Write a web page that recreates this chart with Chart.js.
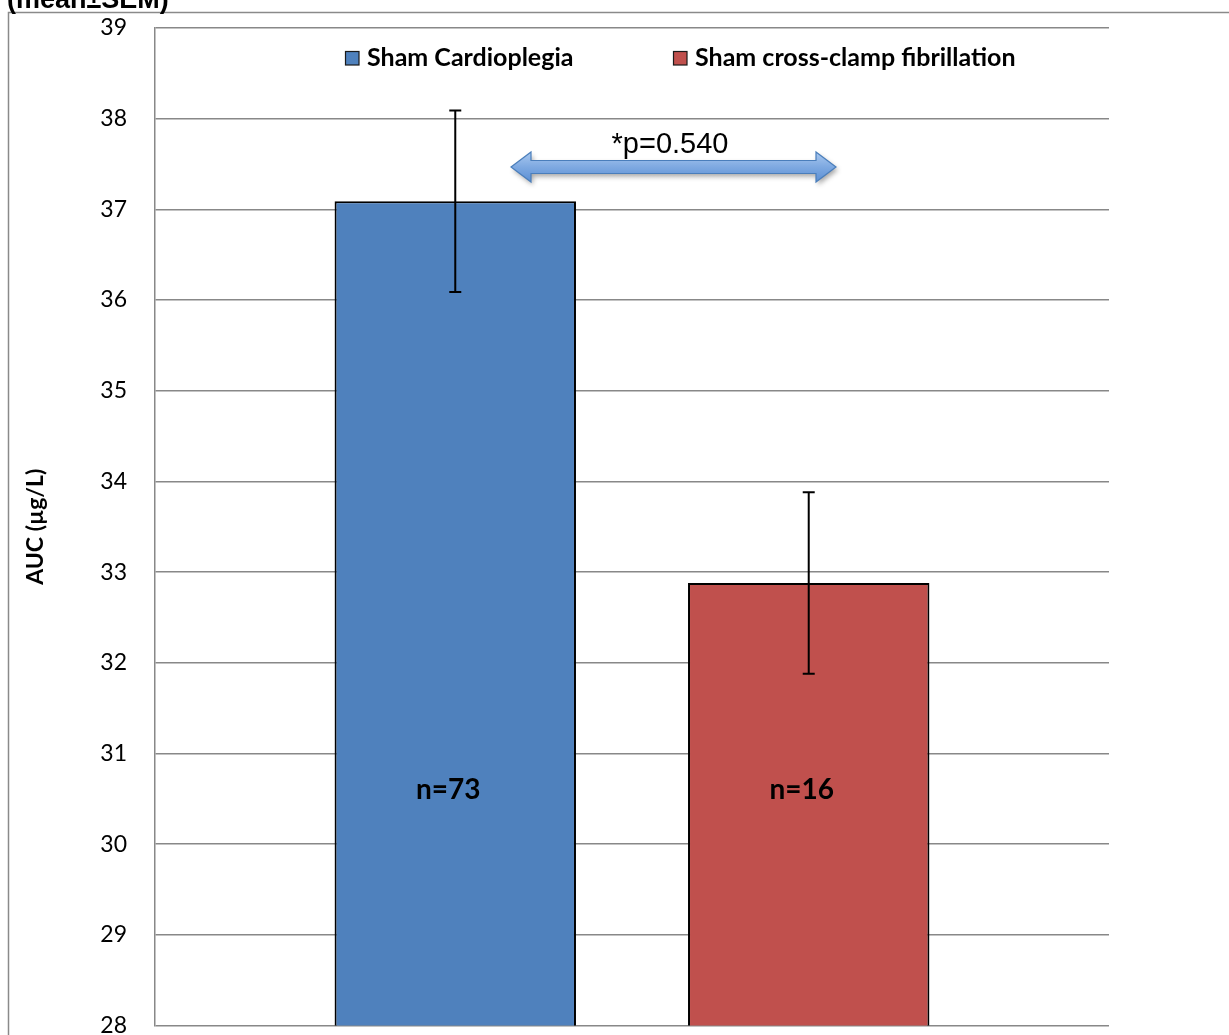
<!DOCTYPE html>
<html>
<head>
<meta charset="utf-8">
<script src="https://cdn.jsdelivr.net/npm/chart.js@4.4.1/dist/chart.umd.min.js"></script>
<style>
  html, body { margin: 0; padding: 0; background: #ffffff; }
  canvas { display: block; }
</style>
</head>
<body>
<canvas id="auc" width="1229" height="1035"></canvas>
<script>
// Group names, means, standard errors and sample sizes
const groups = ['Sham Cardioplegia', 'Sham cross-clamp fibrillation'];
const meanAUC = [37.09, 32.88];
const semAUC = [1.0, 1.0];
const sampleSizes = ['n=73', 'n=16'];
const barColors = ['#4F81BD', '#C0504D'];
const yTicks = [28, 29, 30, 31, 32, 33, 34, 35, 36, 37, 38, 39];
const pLabel = '*p=0.540';
const chartTitle = '(mean\u00B1SEM)';
const yTitle = 'AUC (\u00B5g/L)';

const GRID = '#888888';

// Outer frame, title, legend and comparison arrow
const decorations = {
  id: 'decorations',
  beforeDraw(chart) {
    const ctx = chart.ctx;
    ctx.save();
    ctx.fillStyle = '#ffffff';
    ctx.fillRect(0, 0, chart.width, chart.height);
    ctx.strokeStyle = '#8a8a8a';
    ctx.lineWidth = 1.5;
    ctx.beginPath();
    ctx.moveTo(8.5, chart.height);
    ctx.lineTo(8.5, 12.5);
    ctx.lineTo(chart.width, 12.5);
    ctx.stroke();
    ctx.fillStyle = '#000000';
    ctx.font = 'bold 27px "Liberation Sans", Arial, sans-serif';
    ctx.textBaseline = 'alphabetic';
    ctx.textAlign = 'left';
    ctx.fillText(chartTitle, 7, 8);
    ctx.restore();
  },
  afterDraw(chart) {
    const ctx = chart.ctx;
    ctx.save();
    // legend
    const legendX = [345, 673];
    ctx.font = 'bold 25px Lato, "Open Sans", sans-serif';
    ctx.textBaseline = 'middle';
    ctx.textAlign = 'left';
    groups.forEach((g, i) => {
      ctx.fillStyle = barColors[i];
      ctx.fillRect(legendX[i], 51, 14, 14);
      ctx.strokeStyle = '#1a1a1a';
      ctx.lineWidth = 1.2;
      ctx.strokeRect(legendX[i] + 0.5, 51.5, 13.5, 13.5);
      ctx.fillStyle = '#000000';
      ctx.fillText(g, legendX[i] + 22, 58);
    });

    // double-headed arrow
    const x1 = 511, x2 = 836, yc = 167, shaft = 6.5, head = 15, hl = 20;
    ctx.save();
    ctx.shadowColor = 'rgba(0,0,0,0.35)';
    ctx.shadowBlur = 5;
    ctx.shadowOffsetX = 2;
    ctx.shadowOffsetY = 3;
    const grad = ctx.createLinearGradient(0, yc - head, 0, yc + head);
    grad.addColorStop(0, '#a9c8ef');
    grad.addColorStop(0.5, '#7ea9e1');
    grad.addColorStop(1, '#5b8fd4');
    ctx.fillStyle = grad;
    ctx.beginPath();
    ctx.moveTo(x1, yc);
    ctx.lineTo(x1 + hl, yc - head);
    ctx.lineTo(x1 + hl, yc - shaft);
    ctx.lineTo(x2 - hl, yc - shaft);
    ctx.lineTo(x2 - hl, yc - head);
    ctx.lineTo(x2, yc);
    ctx.lineTo(x2 - hl, yc + head);
    ctx.lineTo(x2 - hl, yc + shaft);
    ctx.lineTo(x1 + hl, yc + shaft);
    ctx.lineTo(x1 + hl, yc + head);
    ctx.closePath();
    ctx.fill();
    ctx.restore();
    ctx.strokeStyle = '#4a7ebb';
    ctx.lineWidth = 1.2;
    ctx.stroke();

    ctx.fillStyle = '#000000';
    ctx.font = '29px "Liberation Sans", Arial, sans-serif';
    ctx.textAlign = 'center';
    ctx.textBaseline = 'alphabetic';
    ctx.fillText(pLabel, 670, 153);
    ctx.restore();
  }
};

// Error bars and sample size labels drawn from the data arrays
const barExtras = {
  id: 'barExtras',
  afterDatasetsDraw(chart) {
    const ctx = chart.ctx;
    const y = chart.scales.y;
    ctx.save();
    chart.data.datasets.forEach((ds, i) => {
      const bar = chart.getDatasetMeta(i).data[0];
      const top = y.getPixelForValue(meanAUC[i] + semAUC[i]);
      const bot = y.getPixelForValue(meanAUC[i] - semAUC[i]);
      ctx.strokeStyle = '#000000';
      ctx.lineWidth = 2;
      ctx.beginPath();
      ctx.moveTo(bar.x, top);
      ctx.lineTo(bar.x, bot);
      ctx.moveTo(bar.x - 6, top);
      ctx.lineTo(bar.x + 6, top);
      ctx.moveTo(bar.x - 6, bot);
      ctx.lineTo(bar.x + 6, bot);
      ctx.stroke();

      ctx.fillStyle = '#000000';
      ctx.font = 'bold 28px Lato, "Open Sans", sans-serif';
      ctx.textAlign = 'center';
      ctx.textBaseline = 'middle';
      ctx.fillText(sampleSizes[i], bar.x - 7, 790);
    });
    ctx.restore();
  }
};

new Chart(document.getElementById('auc'), {
  type: 'bar',
  data: {
    labels: [''],
    datasets: groups.map((g, i) => ({
      label: g,
      data: [meanAUC[i]],
      backgroundColor: barColors[i],
      borderColor: '#000000',
      borderWidth: 2,
      borderSkipped: false,
      categoryPercentage: 0.741,
      barPercentage: 0.683
    }))
  },
  options: {
    responsive: false,
    animation: false,
    devicePixelRatio: 1,
    layout: { padding: { left: 0, top: 28, right: 120, bottom: 9.5 } },
    plugins: {
      legend: { display: false },
      tooltip: { enabled: false }
    },
    scales: {
      x: { display: false },
      y: {
        min: 28,
        max: 39,
        afterBuildTicks(scale) {
          scale.ticks = yTicks.map(v => ({ value: v }));
        },
        afterFit(scale) {
          scale.width = 155;
          scale.paddingTop = 0;
          scale.paddingBottom = 0;
        },
        grid: { color: GRID, lineWidth: 1.5, drawTicks: false },
        border: { display: true, color: GRID, width: 1.5 },
        ticks: {
          padding: 28,
          color: '#000000',
          font: { family: 'Lato, "Open Sans", sans-serif', size: 23 }
        },
        title: {
          display: true,
          text: yTitle,
          color: '#000000',
          font: { family: 'Lato, "Open Sans", sans-serif', size: 23, weight: 'bold' },
          padding: { top: 22, bottom: 0 }
        }
      }
    }
  },
  plugins: [decorations, barExtras]
});
</script>
</body>
</html>
